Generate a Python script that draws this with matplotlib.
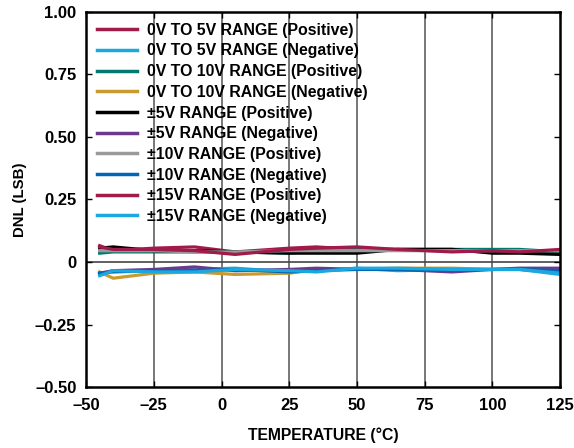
import numpy as np
import matplotlib.pyplot as plt

plt.rcParams['font.family'] = ['Liberation Sans', 'DejaVu Sans']
plt.rcParams['font.weight'] = 'bold'

# temperature points (°C)
temp = [-45, -40, -25, -10, 5, 25, 35, 50, 65, 85, 100, 110, 125]

labels = ["0V TO 5V RANGE (Positive)", "0V TO 5V RANGE (Negative)",
          "0V TO 10V RANGE (Positive)", "0V TO 10V RANGE (Negative)",
          "±5V RANGE (Positive)", "±5V RANGE (Negative)",
          "±10V RANGE (Positive)", "±10V RANGE (Negative)",
          "±15V RANGE (Positive)", "±15V RANGE (Negative)"]

dnl_05_pos = [0.065, 0.045, 0.055, 0.060, 0.040, 0.055, 0.060, 0.050, 0.050, 0.050, 0.045, 0.040, 0.045]
dnl_05_neg = [-0.050, -0.035, -0.035, -0.030, -0.025, -0.040, -0.035, -0.025, -0.035, -0.030, -0.030, -0.030, -0.050]
dnl_010_pos = [0.035, 0.040, 0.040, 0.040, 0.040, 0.035, 0.045, 0.050, 0.050, 0.050, 0.050, 0.050, 0.040]
dnl_010_neg = [-0.040, -0.065, -0.045, -0.040, -0.050, -0.045, -0.030, -0.030, -0.025, -0.025, -0.030, -0.030, -0.030]
dnl_5_pos = [0.055, 0.060, 0.045, 0.045, 0.040, 0.035, 0.035, 0.035, 0.050, 0.050, 0.035, 0.035, 0.030]
dnl_5_neg = [-0.045, -0.035, -0.030, -0.020, -0.035, -0.030, -0.025, -0.030, -0.030, -0.040, -0.030, -0.025, -0.025]
dnl_10_pos = [0.045, 0.045, 0.045, 0.040, 0.040, 0.045, 0.045, 0.045, 0.045, 0.045, 0.045, 0.045, 0.045]
dnl_10_neg = [-0.045, -0.040, -0.035, -0.035, -0.030, -0.040, -0.035, -0.030, -0.030, -0.030, -0.030, -0.030, -0.035]
dnl_15_pos = [0.060, 0.050, 0.050, 0.045, 0.030, 0.050, 0.055, 0.060, 0.050, 0.040, 0.045, 0.040, 0.050]
dnl_15_neg = [-0.055, -0.035, -0.040, -0.040, -0.030, -0.035, -0.040, -0.025, -0.025, -0.030, -0.030, -0.030, -0.045]

series = [dnl_05_pos, dnl_05_neg, dnl_010_pos, dnl_010_neg, dnl_5_pos,
          dnl_5_neg, dnl_10_pos, dnl_10_neg, dnl_15_pos, dnl_15_neg]
colors = ['#A01A4A', '#1BA8DF', '#007A70', '#C99A2E', '#000000',
          '#6B3A8E', '#9A9A9A', '#0066B3', '#A01A4A', '#1BA8DF']

fig = plt.figure(figsize=(5.74, 4.48), dpi=100)
ax = fig.add_axes([0.150, 0.136, 0.826, 0.838])

for s, c, lab in zip(series, colors, labels):
    ax.plot(temp, s, color=c, lw=2.3, label=lab)

ax.set_xlim(-50, 125)
ax.set_ylim(-0.5, 1.0)
ax.set_xticks(np.arange(-50, 126, 25))
ax.set_yticks(np.arange(-0.5, 1.01, 0.25))
ax.set_xticklabels([str(v).replace('-', '–') for v in range(-50, 126, 25)])
ax.set_yticklabels(['–0.50', '–0.25', '0', '0.25', '0.50', '0.75', '1.00'])
for v in range(-25, 101, 25):
    ax.axvline(v, color='#606060', lw=1.2, zorder=0)
ax.axhline(0, color='#444444', lw=1.2, zorder=0)
ax.tick_params(direction='in', top=True, right=True, labelsize=12, length=4, width=1)
ax.tick_params(axis='x', pad=8)
ax.tick_params(axis='y', pad=7)
for sp in ax.spines.values():
    sp.set_linewidth(1.8)

ax.set_xlabel('TEMPERATURE (°C)', fontsize=11.3, fontweight='bold', labelpad=10)
ax.set_ylabel('DNL (LSB)', fontsize=10.8, fontweight='bold', labelpad=6)

leg = ax.legend(loc='upper left', frameon=False, fontsize=11.4, handlelength=2.5,
                handletextpad=0.65, labelspacing=0.36, borderaxespad=0.3)
for line in leg.get_lines():
    line.set_linewidth(2.5)

fig.savefig('out.png', dpi=100)
